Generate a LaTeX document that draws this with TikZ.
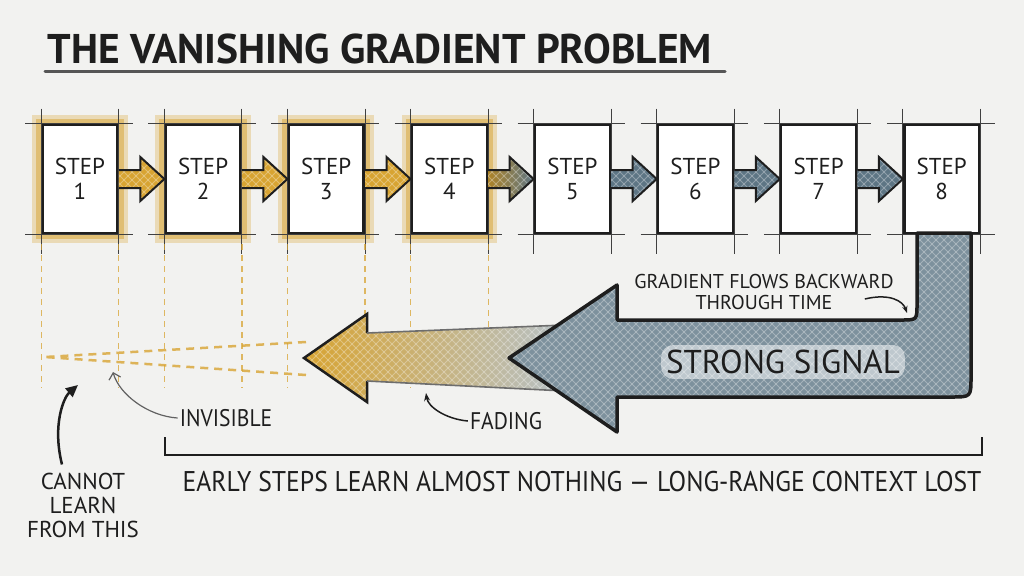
\documentclass[tikz,border=0pt]{standalone}
\usepackage{fontspec}
\setmainfont{PT Sans}
\newfontfamily\narrowfont{PT Sans}[FakeStretch=0.9]
\usetikzlibrary{arrows.meta, positioning, calc, backgrounds}
\definecolor{paper}{HTML}{F2F2F0}
\definecolor{ink}{HTML}{1E1E1E}
\definecolor{gold}{HTML}{D8A432}
\definecolor{slate}{HTML}{5D7584}

\tikzset{
  stepbox/.style={draw=ink, line width=2.6pt, fill=white, minimum width=75pt,
    minimum height=108pt, inner sep=0pt, align=center, text=ink,
    font=\fontsize{23}{25}\selectfont},
  flowarrow/.style={draw=ink, line width=2pt, line join=miter},
  sketch/.style={ink!85, line width=1pt},
  note/.style={text=ink, inner sep=2pt, font=\narrowfont\fontsize{24}{25}\selectfont},
  golddash/.style={gold, line width=1.2pt, dash pattern=on 6pt off 5pt},
  hatch/.style={path picture={
    \foreach \k in {0,8,...,1600}
      \draw[white, opacity=0.3, line width=0.8pt] (\k-576,576) -- (\k,0) (\k-576,0) -- (\k,576);
  }},
}

\begin{document}
\begin{tikzpicture}[x=1pt, y=-1pt]
  \useasboundingbox (0,0) rectangle (1024,576);

  % Title
  \node[anchor=west, text=ink, font=\fontsize{41.5}{42}\selectfont\bfseries] (title) at (44,49)
    {THE VANISHING GRADIENT PROBLEM};
  \draw[ink!75, line width=3pt, line cap=round] (45,71) -- (725,71);

  % Unrolled steps
  \node[stepbox] (s1) at (80,179) {STEP\\1};
  \foreach \i [remember=\i as \j (initially 1)] in {2,...,8}
    \node[stepbox, right=45.5pt of s\j] (s\i) {STEP\\\i};

  \foreach \i in {1,...,8} {
    \draw[sketch] ($(s\i.north west)+(-16,0)$) -- ($(s\i.north east)+(14,0)$);
    \draw[sketch] ($(s\i.south west)+(-16,0)$) -- ($(s\i.south east)+(14,0)$);
    \draw[sketch] ($(s\i.north west)+(0,-15)$) -- ($(s\i.south west)+(0,20)$);
    \draw[sketch] ($(s\i.north east)+(0,-15)$) -- ($(s\i.south east)+(0,20)$);
  }

  % Glow behind the early steps
  \begin{scope}[on background layer]
    \fill[paper] (0,0) rectangle (1024,576);
    \foreach \i in {1,...,4} {
      \fill[gold, opacity=0.3] ($(s\i.north west)+(-9,-9)$) rectangle ($(s\i.south east)+(9,9)$);
      \fill[gold, opacity=0.5] ($(s\i.north west)+(-5,-5)$) rectangle ($(s\i.south east)+(5,5)$);
    }
  \end{scope}

  % Forward arrows
  \foreach \a/\b/\c in {1/2/gold, 2/3/gold, 3/4/gold, 5/6/slate, 6/7/slate, 7/8/slate}
    \filldraw[flowarrow, fill=\c, hatch] ($(s\a.east)+(0,-9)$) -- ($(s\b.west)+(-24,-9)$)
      -- ($(s\b.west)+(-24,-22)$) -- (s\b.west) -- ($(s\b.west)+(-24,22)$)
      -- ($(s\b.west)+(-24,9)$) -- ($(s\a.east)+(0,9)$);
  \shadedraw[flowarrow, left color=gold!80!black, right color=slate, hatch]
    ($(s4.east)+(0,-9)$) -- ($(s5.west)+(-24,-9)$) -- ($(s5.west)+(-24,-22)$) -- (s5.west)
    -- ($(s5.west)+(-24,22)$) -- ($(s5.west)+(-24,9)$) -- ($(s4.east)+(0,9)$);

  % Traces down from the early steps
  \coordinate (dashend) at (0,388);
  \foreach \i in {1,...,4}
    \draw[golddash, opacity=0.75] ($(s\i.south west)+(0,10)$) -- (s\i.south west |- dashend)
      ($(s\i.south east)+(0,10)$) -- (s\i.south east |- dashend);
  \draw[gold, line width=2.5pt, dash pattern=on 8pt off 6pt, opacity=0.8]
    (306,342) -- (45,357) (306,375) -- (45,357);

  % Fading gradient
  \shade[left color=gold, right color=slate!45, hatch]
    (304,358) -- (367,314) -- (367,333) -- (565,325) -- (565,391) -- (367,381) -- (367,402) -- cycle;
  \draw[ink, line width=2.5pt, line join=miter] (367,333) -- (367,314) -- (304,358) -- (367,402) -- (367,381);
  \draw[ink!65, line width=1.6pt] (367,333) -- (565,325) (367,381) -- (565,391);

  % Strong gradient from the last step
  \filldraw[fill=slate!80!white, draw=ink, line width=3.5pt, line join=round, hatch]
    (509,358) -- (617,285) -- (617,320) -- (901,320) .. controls (917,320) .. (917,304)
    -- (917,233) -- (971,233) -- (971,377) .. controls (971,397) .. (951,397)
    -- (617,397) -- (617,432) -- cycle;
  \node[fill=white, fill opacity=0.5, text opacity=1, text=ink, rounded corners=12pt,
        inner sep=5pt, font=\fontsize{33}{33}\selectfont] (strong) at (783,362) {STRONG SIGNAL};

  \node[text=ink, inner sep=2pt, align=center, font=\fontsize{20}{21}\selectfont] (flows) at (764,292)
    {GRADIENT FLOWS BACKWARD\\THROUGH TIME};
  \coordinate (flowtip) at (907,313);
  \draw[ink, line width=1.5pt, -{Stealth[length=7pt]}]
    ($(flows.east)+(-31,7)$) .. controls +(25,-6) and +(-4,-12) .. (flowtip);

  % Side notes
  \node[note] (fading) at (506,421) {FADING};
  \coordinate (fadetip) at (426,393);
  \draw[ink, line width=1.5pt, -{Stealth[length=8pt]}]
    (fading.west) .. controls +(-22,-2) and +(2,14) .. (fadetip);

  \node[note] (invisible) at (226,418) {INVISIBLE};
  \coordinate (invtip) at (113,372);
  \draw[ink!70, line width=1.2pt, -{Straight Barb[length=6pt]}]
    (invisible.west) .. controls +(-30,-2) and +(6,22) .. (invtip);

  \node[text=ink, inner sep=2pt, align=center, font=\fontsize{23}{24}\selectfont] (cannot) at (83,505)
    {CANNOT\\LEARN\\FROM THIS};
  \coordinate (cantip) at (78,385);
  \draw[ink, line width=2.5pt, -{Triangle[length=12pt, width=11pt]}]
    ([xshift=-21pt, yshift=6pt]cannot.north) .. controls +(-10,-40) and +(-14,12) .. (cantip);

  % Bracket and lesson
  \coordinate (brl) at (165,437);
  \coordinate (brr) at (982,437);
  \draw[ink, line width=2pt] (brl) -- ++(0,18) -| (brr);
  \node[note, font=\narrowfont\fontsize{28.5}{30}\selectfont] (lesson) at (582,482)
    {EARLY STEPS LEARN ALMOST NOTHING — LONG-RANGE CONTEXT LOST};
\end{tikzpicture}
\end{document}
